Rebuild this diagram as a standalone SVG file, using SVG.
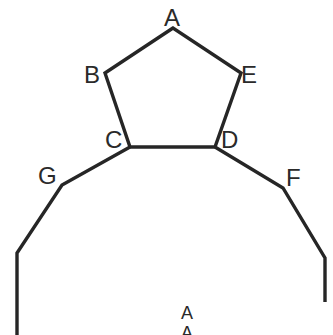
<svg xmlns="http://www.w3.org/2000/svg" width="333" height="335" viewBox="0 0 333 335">
<style>
.ln{fill:none;stroke:#262626;stroke-width:3.4;stroke-linejoin:miter;stroke-linecap:butt}
.lb{font-family:"Liberation Sans",Arial,sans-serif;font-size:24px;fill:#2a2a2a}
.lb2{font-family:"Liberation Sans",Arial,sans-serif;font-size:18px;fill:#2a2a2a;text-anchor:middle}
</style>
<rect width="333" height="335" fill="#ffffff"/>
<g id="connectors">
<polygon class="ln" points="173,28 105,73 130,147 215,147 241,73"/>
<polyline class="ln" points="130,147 62,185 17,253 17,336"/>
<polyline class="ln" points="215,147 283,188 325,258 325,302"/>
</g>
<g id="A"><text class="lb" x="164" y="26">A</text></g>
<g id="B"><text class="lb" x="84" y="83">B</text></g>
<g id="E"><text class="lb" x="241" y="83">E</text></g>
<g id="C"><text class="lb" x="105" y="148">C</text></g>
<g id="D"><text class="lb" x="221" y="148">D</text></g>
<g id="G"><text class="lb" x="38" y="184">G</text></g>
<g id="F"><text class="lb" x="286" y="186">F</text></g>
<g id="A2"><text class="lb2" x="187" y="319">A</text><text class="lb2" x="187" y="339">A</text></g>
</svg>
